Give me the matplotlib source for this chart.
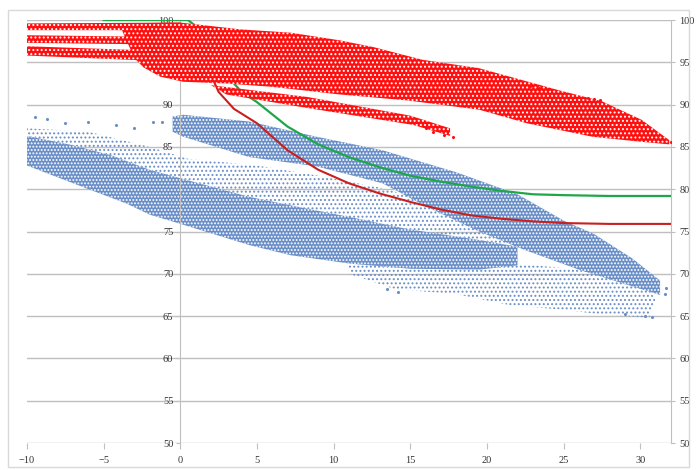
import matplotlib
matplotlib.use("Agg")
import matplotlib.pyplot as plt
from matplotlib.patches import Polygon, Rectangle

plt.rcParams['font.family'] = ['Liberation Serif', 'DejaVu Serif']
plt.rcParams['hatch.linewidth'] = 0.9

# cloud outlines (x, y), going round each band
red_streak_1 = [(-10, 99.6), (0, 99.7), (0, 98.8), (-10, 98.8)]
red_streak_2 = [(-10, 98.2), (-1, 98.0), (-1, 97.1), (-10, 97.3)]
red_streak_3 = [(-10, 96.9), (-2, 96.4), (-2, 95.2), (-10, 95.8)]
red_main = [(-4, 99.6), (0, 99.7), (3.9, 98.9), (7.2, 98.5), (10.4, 97.6), (12.6, 96.8),
            (15.8, 95.3), (19.5, 94.3), (21.5, 93.3), (24.7, 91.7), (27.5, 90.4), (30.1, 88.2),
            (31.9, 85.8), (31.9, 85.3), (30.1, 85.6), (26.9, 86.2), (22.6, 87.8), (19.5, 89.4),
            (14.8, 90.5), (10.4, 91.2), (6, 92.1), (3, 92.5), (0.2, 92.7), (-1.3, 93.3),
            (-2.4, 94.4), (-3, 95.5)]
red_low = [(2, 92.3), (8.3, 90.9), (15, 88.7), (17.6, 87.2), (17.6, 86.3), (15.2, 87.6),
           (8.3, 89.6), (3, 91.2)]
red_extra_x = [16.0, 16.5, 17.2, 17.8, 26.6, 27.0, 27.4, 22.8, 23.4, 24.0, 32.0]
red_extra_y = [87.2, 86.8, 86.4, 86.2, 90.8, 90.7, 90.6, 92.2, 92.0, 91.8, 85.6]

blue_upper = [(-0.5, 88.6), (0.2, 88.8), (4.5, 88.0), (8.9, 86.2), (13.2, 84.6), (18, 82.0),
              (22, 79.4), (25, 76.3), (27, 74.7), (29.5, 71.8), (31.3, 69.2), (31.3, 67.5),
              (29, 68.8), (26, 70.5), (22.5, 72.8), (19.5, 75.0), (16, 78.0), (13.2, 80.7),
              (8.9, 82.7), (4.5, 83.8), (0.2, 86.2), (-0.5, 86.8)]
blue_main = [(-10, 86.3), (-7, 85.2), (-4.5, 84.0), (-2, 82.3), (0.2, 81.2), (4.5, 79.1),
             (8, 77.8), (11.1, 76.7), (14.8, 75.3), (19.5, 74.0), (22, 73.2), (22, 71.0),
             (19.5, 70.5), (15, 70.6), (11.1, 71.2), (7.2, 72.2), (4.5, 73.4), (0.2, 75.8),
             (-2, 77.0), (-3.5, 78.3), (-6.7, 80.5), (-10, 82.8)]
blue_main_top = [(-10, 87.2), (-6, 86.8), (-2, 85.0), (0.5, 83.6), (5, 82.8), (9, 81.6),
                 (13, 80.2), (16.5, 78.5), (19.5, 76.5), (22, 75.0), (22, 73.2), (19.5, 74.0),
                 (14.8, 75.3), (11.1, 76.7), (8, 77.8), (4.5, 79.1), (0.2, 81.2), (-2, 82.3),
                 (-4.5, 84.0), (-7, 85.2), (-10, 86.3)]
blue_low = [(11, 71.4), (15, 70.6), (19.5, 70.5), (22, 71.2), (26, 70.5), (30, 69.5), (31, 67),
            (30.6, 64.8), (27.5, 65.2), (24.7, 65.8), (21.5, 66.3), (18, 67.6), (14, 68.2),
            (11, 70.0)]
blue_extra_x = [-9.5, -8.7, -7.5, -6.0, -4.2, -3.0, -1.8, -1.2, 13.5, 14.2, 30.3, 30.8, 31.6, 31.7, 29.0]
blue_extra_y = [88.5, 88.3, 87.8, 87.9, 87.6, 87.2, 88.0, 87.9, 68.2, 67.9, 65.0, 64.9, 67.6, 68.3, 65.3]

# fitted curves
green_x = [-5, 0.5, 1, 2, 3, 4, 5, 7, 9, 11, 13, 15, 17, 19, 21, 23, 25, 28, 32]
green_y = [100, 100, 99.3, 96.5, 93.5, 91.5, 90.3, 87.4, 85.3, 83.8, 82.6, 81.6, 80.9, 80.3,
           79.8, 79.4, 79.3, 79.2, 79.2]
redline_x = [1.0, 1.5, 2.0, 2.5, 3.5, 5, 7, 9, 11, 13, 15, 17, 19, 21, 23, 25, 28, 32]
redline_y = [99, 96.5, 93.5, 91.5, 89.5, 87.8, 84.6, 82.3, 80.7, 79.5, 78.5, 77.6, 76.9,
             76.5, 76.2, 76.0, 75.9, 75.9]

x_ticks = [-10, -5, 0, 5, 10, 15, 20, 25, 30]
y_ticks = [50, 55, 60, 65, 70, 75, 80, 85, 90, 95, 100]

RED = '#ff1010'
BLUE = '#6a8fc8'
GRID = '#bfbfbf'


def cloud(ax, pts, color, z, hatch='....'):
    # dense band: solid colour with white speckle
    ax.add_patch(Polygon(pts, closed=True, facecolor=color, edgecolor='none', zorder=z))
    ax.add_patch(Polygon(pts, closed=True, facecolor='none', edgecolor='white',
                         linewidth=0, hatch=hatch, zorder=z))


def sparse_cloud(ax, pts, color, z):
    # thin band: coloured dots on white
    ax.add_patch(Polygon(pts, closed=True, facecolor='none', edgecolor=color,
                         linewidth=0, hatch='....', zorder=z))


fig = plt.figure(figsize=(6.96, 4.70), dpi=100)
fig.patches.append(Rectangle((0.012, 0.006), 0.978, 0.972, transform=fig.transFigure,
                             facecolor='none', edgecolor='#d9d9d9', linewidth=1))
ax = fig.add_axes([0.0388, 0.0574, 0.925, 0.9])

for y in y_ticks:
    ax.axhline(y, color=GRID, linewidth=1, zorder=1)

sparse_cloud(ax, blue_main_top, BLUE, 2)
sparse_cloud(ax, blue_low, BLUE, 2)
cloud(ax, blue_main, BLUE, 2, hatch='.....')
cloud(ax, blue_upper, BLUE, 2, hatch='.....')
ax.scatter(blue_extra_x, blue_extra_y, s=5, color=BLUE, linewidths=0, zorder=2)

ax.plot(green_x, green_y, color='#1fa64a', linewidth=1.6, zorder=3)
ax.plot(redline_x, redline_y, color='#c8201e', linewidth=1.5, zorder=3)

for pts in [red_streak_1, red_streak_2, red_streak_3, red_main, red_low]:
    cloud(ax, pts, RED, 4)
ax.scatter(red_extra_x, red_extra_y, s=5, color=RED, linewidths=0, zorder=4)

ax.set_xlim(-10, 32)
ax.set_ylim(50, 100)
ax.spines['top'].set_visible(False)
ax.spines['bottom'].set_visible(False)
ax.spines['left'].set_position(('data', 0))
ax.spines['left'].set_color(GRID)
ax.spines['right'].set_color(GRID)
ax.set_xticks(x_ticks)
ax.set_yticks(y_ticks)
ax.tick_params(axis='x', length=4, color=GRID, labelsize=7.5, labelcolor='#333333', pad=5)
ax.tick_params(axis='y', length=3, color=GRID, labelsize=7.5, labelcolor='#333333', pad=2)

ax2 = ax.twinx()
ax2.set_ylim(50, 100)
ax2.set_yticks(y_ticks)
for s in ['top', 'bottom', 'left', 'right']:
    ax2.spines[s].set_visible(False)
ax2.tick_params(axis='y', length=3, color=GRID, labelsize=7.5, labelcolor='#333333', pad=3)

fig.savefig('out.png', dpi=100)
